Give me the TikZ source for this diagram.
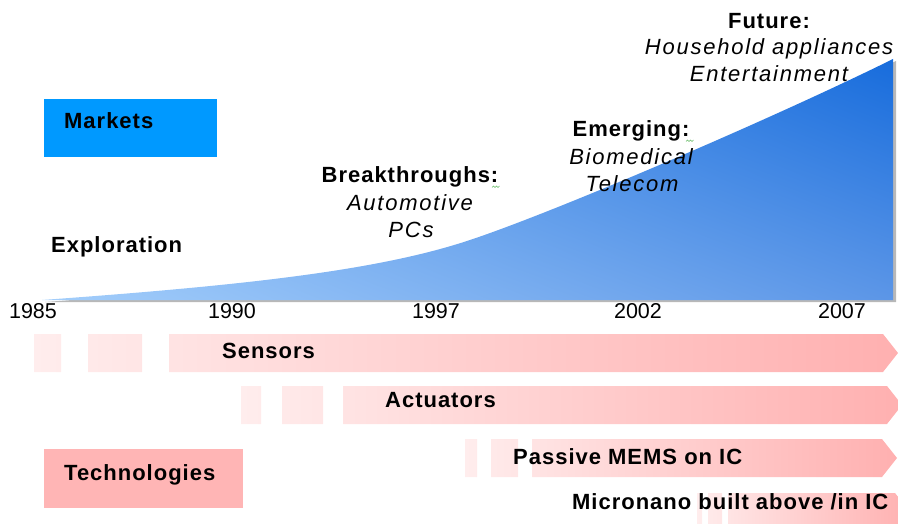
\documentclass[tikz,border=0pt]{standalone}
\usepackage{fontspec}
\usetikzlibrary{shadings}
\setmainfont{Liberation Sans}[BoldFeatures={LetterSpace=4.5}, ItalicFeatures={LetterSpace=8}]
\definecolor{mkt}{HTML}{0099FF}
\definecolor{tech}{HTML}{FFB5B5}
\definecolor{barL}{HTML}{FFEDED}
\definecolor{barR}{HTML}{FFB0B0}
\definecolor{areaLL}{HTML}{A3CEFB}
\definecolor{areaUR}{HTML}{176CDC}
\definecolor{areaUL}{HTML}{6FA8F0}
\definecolor{areaLR}{HTML}{5C96E7}
\definecolor{squig}{HTML}{66BB66}
\begin{document}
\begin{tikzpicture}[x=1pt,y=-1pt,
  bl/.style={font=\fontsize{22}{26}\selectfont\bfseries, inner sep=0pt},
  it/.style={font=\fontsize{22}{26}\selectfont\itshape, inner sep=0pt},
  yr/.style={font=\fontsize{21.5}{24}\selectfont, inner sep=0pt, anchor=base},
  barfill/.style={left color=barL, right color=barR},
  sq/.style={squig, line width=0.6pt}]
\useasboundingbox (0,0) rectangle (898,524);
\clip (0,0) rectangle (898,524);
% market growth area
\fill[black!28] (45,302) .. controls (253,287) and (383,272) .. (473,242)
  .. controls (563,212) and (783,117) .. (896,61) -- (896,302) -- cycle;
\shade[shading=bilinear interpolation, lower left=areaLL, upper right=areaUR, upper left=areaUL, lower right=areaLR]
  (42,300) .. controls (250,285) and (380,270) .. (470,240)
  .. controls (560,210) and (780,115) .. (893,59) -- (893,300) -- cycle;
% boxes
\node[fill=mkt, minimum width=173pt, minimum height=58pt, inner sep=0pt, anchor=north west] (markets) at (44,99) {};
\node[bl, anchor=base west] (marketsT) at (64,129) {Markets};
\node[fill=tech, minimum width=199pt, minimum height=59pt, inner sep=0pt, anchor=north west] (tech) at (44,449) {};
\node[bl, anchor=base west] (techT) at (64,480) {Technologies};
% market labels
\node[bl, anchor=base west] (expl) at (51,252) {Exploration};
\node[bl, anchor=base] (brk) at (410,183) {Breakthroughs:};
\node[it, anchor=base] (auto) at (410,211) {Automotive};
\node[it, anchor=base] (pcs) at (411,237) {PCs};
\node[bl, anchor=base] (emg) at (631,137) {Emerging:};
\node[it, anchor=base] (bio) at (631,165) {Biomedical};
\node[it, anchor=base] (tel) at (632,192) {Telecom};
\node[bl, anchor=base] (fut) at (769,29) {Future:};
\node[it, anchor=base] (hh) at (769,55) {Household appliances};
\node[it, anchor=base] (ent) at (769,82) {Entertainment};
\draw[sq] (492,187.5) -- (493.5,186) -- (495,187.5) -- (496.5,186) -- (498,187.5) -- (499.5,186);
\draw[sq] (686,141.5) -- (687.5,140) -- (689,141.5) -- (690.5,140) -- (692,141.5) -- (693.5,140);
% years
\node[yr] (y1985) at (33,318) {1985};
\node[yr] (y1990) at (232,318) {1990};
\node[yr] (y1997) at (436,318) {1997};
\node[yr] (y2002) at (638,318) {2002};
\node[yr] (y2007) at (842,318) {2007};
% technology bars
\shade[barfill] (34,334) rectangle (61,372) (88,334) rectangle (142,372)
  (169,334) -- (883,334) -- (898,353) -- (883,372) -- (169,372) -- cycle;
\node[bl, anchor=base west] (sens) at (222,358) {Sensors};
\shade[barfill] (241,386) rectangle (261,424) (282,386) rectangle (323,424)
  (343,386) -- (887,386) -- (902,405) -- (887,424) -- (343,424) -- cycle;
\node[bl, anchor=base west] (act) at (385,407) {Actuators};
\shade[barfill] (465,439) rectangle (477,477) (491,439) rectangle (518,477)
  (532,439) -- (882,439) -- (897,458) -- (882,477) -- (532,477) -- cycle;
\node[bl, anchor=base west] (pas) at (513,464) {Passive MEMS on IC};
\shade[barfill] (697,493) rectangle (702,531) (708,493) rectangle (722,531)
  (728,493) -- (895,493) -- (910,512) -- (895,531) -- (728,531) -- cycle;
\node[bl, anchor=base west] (mic) at (572,509) {Micronano built above /in IC};
\end{tikzpicture}
\end{document}
